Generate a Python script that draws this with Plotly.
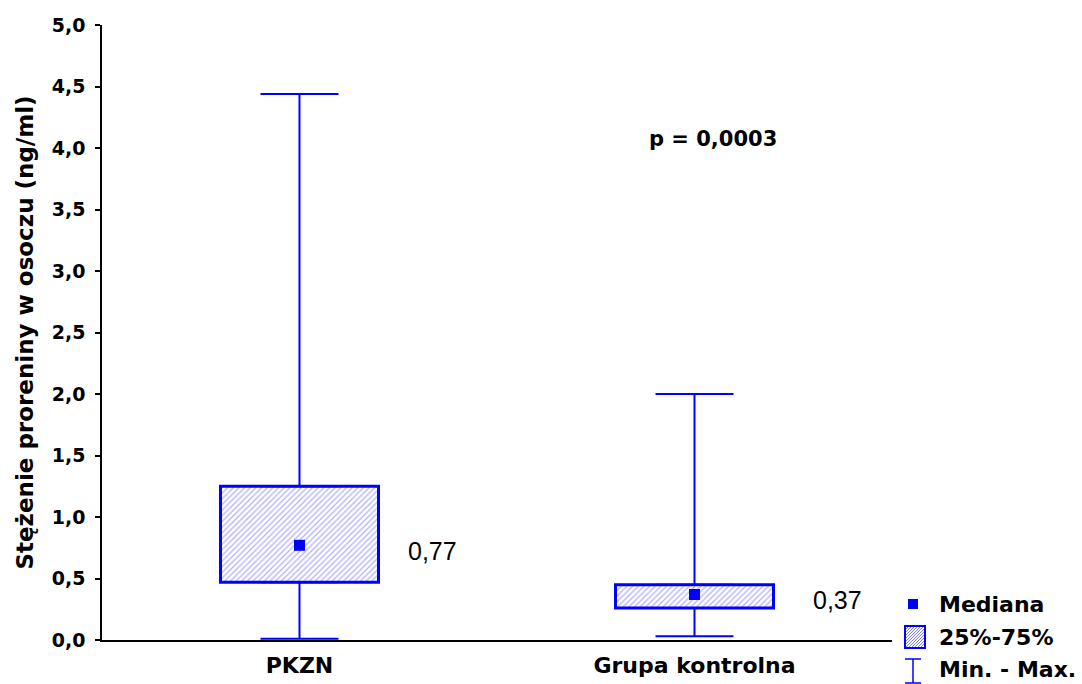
import plotly.graph_objects as go

# ---- data ----
categories = ["PKZN", "Grupa kontrolna"]
q1 = [0.47, 0.26]
q3 = [1.25, 0.45]
medians = [0.77, 0.37]
mins = [0.01, 0.03]
maxs = [4.44, 2.00]
p_text = "p = 0,0003"
y_title = "Stężenie proreniny w osoczu (ng/ml)"
legend_labels = ["Mediana", "25%-75%", "Min. - Max."]

BLUE = "#0000ff"
BOLD = "DejaVu Sans"

fig = go.Figure()

# interquartile boxes
fig.add_trace(go.Bar(
    x=categories, y=[b - a for a, b in zip(q1, q3)], base=q1, width=0.4,
    marker=dict(color="white", line=dict(color=BLUE, width=3),
                pattern=dict(shape="/", fgcolor="#5c5cff", bgcolor="white", size=4, solidity=0.3)),
    showlegend=False, hoverinfo="skip"))

# upper whiskers
fig.add_trace(go.Scatter(
    x=categories, y=q3, mode="markers", marker=dict(size=1, opacity=0),
    error_y=dict(type="data", symmetric=False, array=[b - a for a, b in zip(q3, maxs)],
                 arrayminus=[0, 0], width=39, thickness=2, color=BLUE),
    showlegend=False, hoverinfo="skip"))
# lower whiskers
fig.add_trace(go.Scatter(
    x=categories, y=q1, mode="markers", marker=dict(size=1, opacity=0),
    error_y=dict(type="data", symmetric=False, array=[0, 0],
                 arrayminus=[a - b for a, b in zip(q1, mins)], width=39, thickness=2, color=BLUE),
    showlegend=False, hoverinfo="skip"))

# medians
fig.add_trace(go.Scatter(
    x=categories, y=medians, mode="markers",
    marker=dict(symbol="square", size=11, color=BLUE),
    showlegend=False, hoverinfo="skip"))

annotations = []
for c, m, xs in zip(categories, medians, [106, 116]):
    annotations.append(dict(x=c, y=m, xref="x", yref="y", text=f"{m:.2f}".replace(".", ","),
                            showarrow=False, xanchor="left", yanchor="middle", xshift=xs, yshift=-6,
                            font=dict(family="Arial", size=25, color="black")))
annotations.append(dict(x=1, y=4.07, xref="x", yref="y", text=p_text, showarrow=False,
                        xshift=18, font=dict(family=BOLD, size=21, color="black", weight="bold")))

# ---- manual legend (pixel helpers -> paper coords) ----
L, R, T, B = 102, 190, 25, 44
W, H = 1082, 684
PW, PH = W - L - R, H - T - B


def px(x):
    return (x - L) / PW


def py(y):
    return (H - B - y) / PH


shapes = []
# median symbol
shapes.append(dict(type="rect", xref="paper", yref="paper", x0=px(908), x1=px(918), y0=py(609), y1=py(599),
                   fillcolor=BLUE, line=dict(width=0)))
# hatched box
bx0, bx1, by0, by1 = 905, 925, 626, 648
hatch = []
for k in range(-24, 24, 3):
    xa, ya = bx0 + k, by1
    xb, yb = bx0 + k + (by1 - by0), by0
    if xa < bx0:
        ya = ya - (bx0 - xa)
        xa = bx0
    if xb > bx1:
        yb = yb + (xb - bx1)
        xb = bx1
    if xa < xb:
        hatch.append(f"M{px(xa)},{py(ya)} L{px(xb)},{py(yb)}")
shapes.append(dict(type="path", xref="paper", yref="paper", path=" ".join(hatch),
                   line=dict(color="#7a7aff", width=1)))
shapes.append(dict(type="rect", xref="paper", yref="paper", x0=px(bx0), x1=px(bx1), y0=py(by1), y1=py(by0),
                   line=dict(color=BLUE, width=2)))
# I-bar symbol
ix, iy0, iy1 = 913, 659, 683
shapes.append(dict(type="path", xref="paper", yref="paper",
                   path=f"M{px(ix)},{py(iy0)} L{px(ix)},{py(iy1)} "
                        f"M{px(ix-8)},{py(iy0)} L{px(ix+8)},{py(iy0)} "
                        f"M{px(ix-8)},{py(iy1)} L{px(ix+8)},{py(iy1)}",
                   line=dict(color=BLUE, width=1.5)))

for lab, yy in zip(legend_labels, [604, 637, 669]):
    annotations.append(dict(x=px(937), y=py(yy), xref="paper", yref="paper", text=lab, showarrow=False,
                            xanchor="left", yanchor="middle",
                            font=dict(family=BOLD, size=22, color="black", weight="bold")))

fig.update_layout(
    width=W, height=H, margin=dict(l=L, r=R, t=T, b=B, autoexpand=False),
    paper_bgcolor="white", plot_bgcolor="white",
    separators=",.",
    showlegend=False,
    annotations=annotations, shapes=shapes,
    xaxis=dict(type="category", range=[-0.5, 1.5], showline=True, linecolor="black", linewidth=2,
               ticks="", showgrid=False, zeroline=False, ticklabelstandoff=5, automargin=False,
               tickfont=dict(family=BOLD, size=22, color="black", weight="bold")),
    yaxis=dict(range=[0, 5], dtick=0.5, tick0=0, tickformat=".1f", showline=True, linecolor="black",
               linewidth=1.5, ticks="outside", ticklen=5, tickwidth=1.5, tickcolor="black",
               showgrid=False, zeroline=False, ticklabelstandoff=6, automargin=False,
               tickfont=dict(family=BOLD, size=19, color="black", weight="bold"),
               title=dict(text=y_title, standoff=12,
                          font=dict(family=BOLD, size=23, color="black", weight="bold"))),
)

fig.write_html("out.html")
